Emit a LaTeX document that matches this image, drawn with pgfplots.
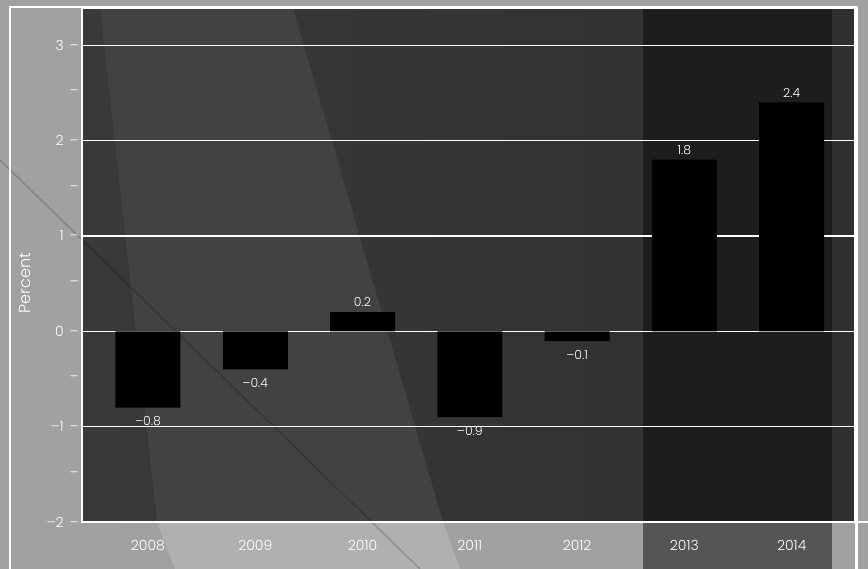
\documentclass[border=0pt]{standalone}
\usepackage{pgfplots}
\pgfplotsset{compat=1.18}
\usepackage{pgfplotstable}
\usepackage{fontspec}
\setmainfont{Poppins}[UprightFont=* Light]
\definecolor{outgray}{HTML}{A0A1A3}
\definecolor{outlight}{HTML}{B0B0B0}
\definecolor{inleft}{HTML}{393939}
\definecolor{inright}{HTML}{2F2F2F}
\definecolor{wedge}{HTML}{424242}
\definecolor{shadein}{HTML}{1D1D1D}
\definecolor{shadeout}{HTML}{555555}
\pgfplotstableread{
x y lab
2 0.2 0.2
5 1.8 1.8
6 2.4 2.4
}\pos
\pgfplotstableread{
x y lab
0 -0.8 –0.8
1 -0.4 –0.4
3 -0.9 –0.9
4 -0.1 –0.1
}\negs
\begin{document}
\begin{tikzpicture}
\useasboundingbox (0pt,0pt) rectangle (868pt,569pt);
% background decoration
\fill[outgray] (0pt,0pt) rectangle (868pt,569pt);
\fill[outlight] (157pt,47pt) -- (443pt,47pt) -- (460pt,0pt) -- (175pt,0pt) -- cycle;
\shade[left color=inleft, right color=inright] (82pt,47pt) rectangle (855pt,561pt);
\fill[wedge] (100pt,561pt) -- (293pt,561pt) -- (443pt,47pt) -- (157pt,47pt) -- cycle;
\draw[black, opacity=0.18, line width=1.5pt] (0pt,409pt) -- (420pt,0pt);
\fill[shadein] (643pt,47pt) rectangle (832pt,561pt);
\fill[shadeout] (643pt,0pt) rectangle (832pt,47pt);
\draw[white, line width=2.5pt] (10pt,0pt) -- (10pt,562pt) -- (857pt,562pt);
\draw[white, line width=2.5pt] (856.5pt,0pt) -- (856.5pt,562pt);
\draw[white, line width=2.5pt] (855pt,47pt) -- (868pt,47pt);
\begin{axis}[
  at={(82pt,47pt)}, anchor=south west,
  scale only axis, width=773pt, height=514pt,
  xmin=-0.615, xmax=6.59, ymin=-2, ymax=3.39,
  axis line style={white, line width=2.5pt},
  tick style={draw=none},
  xtick={0,1,2,3,4,5,6},
  xticklabels={2008,2009,2010,2011,2012,2013,2014},
  xticklabel style={font=\fontsize{14}{16}\selectfont, text=white, yshift=-15pt},
  ytick={-2,-1,0,1,2,3},
  yticklabels={–2\hspace{6pt}–,–1\hspace{6pt}–,0\hspace{6pt}–,1\hspace{6pt}–,2\hspace{6pt}–,3\hspace{6pt}–},
  extra y ticks={-1.5,-0.5,0.5,1.5,2.5},
  extra y tick labels={–,–,–,–,–},
  extra y tick style={grid=none},
  yticklabel style={font=\fontsize{14}{16}\selectfont, text=white, anchor=east, inner sep=3pt},
  ymajorgrids,
  major grid style={white, line width=1.2pt},
  ylabel={Percent},
  every axis y label/.style={at={(axis description cs:-0.074,0.465)}, rotate=90, anchor=center, font=\fontsize{16}{18}\selectfont, text=white},
]
\addplot[ybar, bar width=65pt, bar shift=0pt, fill=black, draw=none,
  nodes near coords, point meta=explicit symbolic,
  every node near coord/.append style={font=\fontsize{12.5}{14}\selectfont, text=white, anchor=south, inner sep=5pt}]
  table[x=x, y=y, meta=lab] {\pos};
\addplot[ybar, bar width=65pt, bar shift=0pt, fill=black, draw=none,
  nodes near coords, point meta=explicit symbolic,
  every node near coord/.append style={font=\fontsize{12.5}{14}\selectfont, text=white, anchor=north, inner sep=9pt}]
  table[x=x, y=y, meta=lab] {\negs};
\end{axis}
\end{tikzpicture}
\end{document}
